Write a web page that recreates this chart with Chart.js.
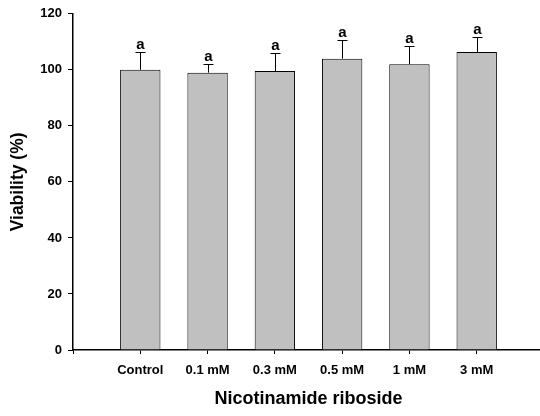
<!DOCTYPE html>
<html>
<head>
<meta charset="utf-8">
<script src="https://cdn.jsdelivr.net/npm/chart.js@4/dist/chart.umd.min.js"></script>
<style>
  html, body { margin: 0; padding: 0; background: #fff; overflow: hidden; }
  #wrap { width: 553px; height: 416px; }
</style>
</head>
<body>
<div id="wrap"><canvas id="chart" width="553" height="416"></canvas></div>
<script>
// ===== Dados =====
const categories = ['Control', '0.1 mM', '0.3 mM', '0.5 mM', '1 mM', '3 mM'];
const viability  = [100, 99.0, 99.6, 104.0, 102.0, 106.4];
const sdUpper    = [6.5, 3.2, 6.5, 6.7, 6.6, 5.4];
const letters    = ['a', 'a', 'a', 'a', 'a', 'a'];
const yTicks     = [0, 20, 40, 60, 80, 100, 120];

const FONT = "Arial, 'Liberation Sans', sans-serif";

// uma categoria vazia de cada lado, como no gráfico original
const labels = ['', ...categories, ''];
const data   = [null, ...viability, null];

// ===== Barras de erro + letras =====
const errorBars = {
  id: 'errorBars',
  afterDatasetsDraw(chart) {
    const { ctx, scales: { x, y } } = chart;
    ctx.save();
    ctx.strokeStyle = '#000';
    ctx.lineWidth = 1;
    ctx.fillStyle = '#000';
    ctx.font = 'bold 15px ' + FONT;
    ctx.textAlign = 'center';
    ctx.textBaseline = 'alphabetic';
    viability.forEach((v, i) => {
      const cx  = Math.round(x.getPixelForValue(i + 1)) + 0.5;
      const top = y.getPixelForValue(v);
      const eTop = Math.round(y.getPixelForValue(v + sdUpper[i])) + 0.5;
      ctx.beginPath();
      ctx.moveTo(cx, top);
      ctx.lineTo(cx, eTop);
      ctx.moveTo(cx - 5, eTop);
      ctx.lineTo(cx + 5, eTop);
      ctx.stroke();
      ctx.fillText(letters[i], cx, eTop - 4);
    });
    ctx.restore();
  }
};

new Chart(document.getElementById('chart'), {
  type: 'bar',
  data: {
    labels,
    datasets: [{
      data,
      backgroundColor: '#c0c0c0',
      borderColor: '#000',
      borderWidth: 1,
      barPercentage: 0.6,
      categoryPercentage: 1
    }]
  },
  options: {
    responsive: false,
    animation: false,
    layout: { padding: { top: 12, right: 0, left: 0, bottom: 0 } },
    plugins: { legend: { display: false }, tooltip: { enabled: false } },
    scales: {
      x: {
        offset: false,
        border: { color: '#000', width: 1.5 },
        grid: { offset: false, drawOnChartArea: false, drawTicks: true, tickLength: 4, color: '#000' },
        ticks: {
          color: '#000', padding: 9, maxRotation: 0, autoSkip: false,
          font: { family: FONT, size: 13, weight: 'bold' }
        },
        title: {
          display: true, text: 'Nicotinamide riboside', color: '#000',
          font: { family: FONT, size: 18, weight: 'bold' },
          padding: { top: 0, bottom: 6 }
        },
        afterFit: s => { s.height = 66; }
      },
      y: {
        min: 0, max: 120,
        border: { color: '#000', width: 1.5 },
        grid: { drawOnChartArea: false, drawTicks: true, tickLength: 5, color: '#000' },
        afterBuildTicks: s => { s.ticks = yTicks.map(v => ({ value: v })); },
        ticks: {
          color: '#000', padding: 6,
          font: { family: FONT, size: 13, weight: 'bold' }
        },
        title: {
          display: true, text: 'Viability (%)', color: '#000',
          font: { family: FONT, size: 17.5, weight: 'bold' },
          padding: { top: 8, bottom: 0 }
        },
        afterFit: s => { s.width = 73; }
      }
    }
  },
  plugins: [errorBars]
});
</script>
</body>
</html>
